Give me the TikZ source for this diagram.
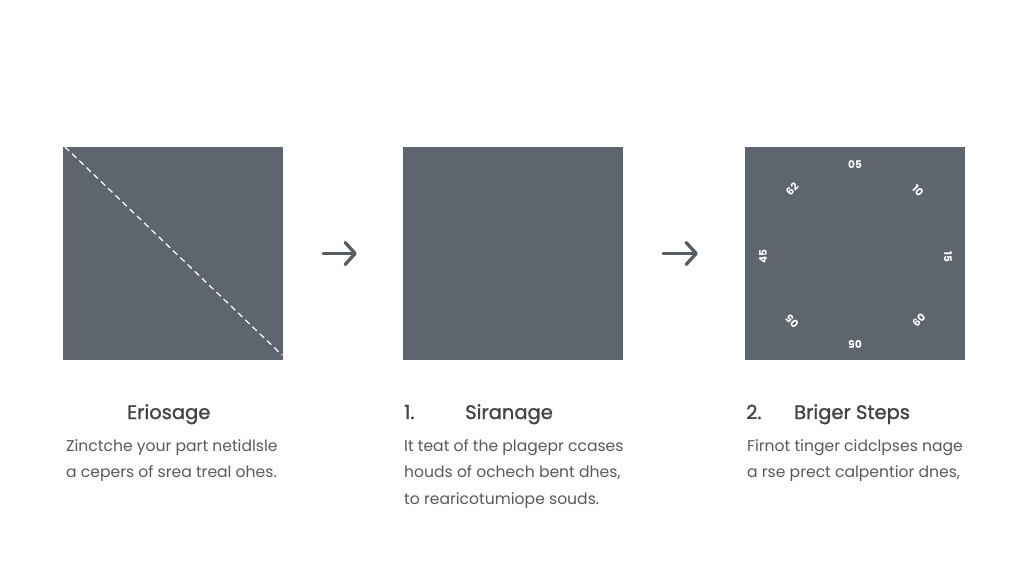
\documentclass[tikz,border=0pt]{standalone}
\usepackage{fontspec}
\setmainfont{Poppins}
\newfontfamily\titlefont[FakeBold=1.3]{Poppins}
\usetikzlibrary{arrows.meta,calc}
\definecolor{boxgray}{HTML}{5F656E}
\definecolor{arrgray}{HTML}{565C64}
\definecolor{titlegray}{HTML}{444444}
\definecolor{bodygray}{HTML}{5A5A5A}
\tikzset{
  panel/.style={fill=boxgray, draw=none, minimum width=220pt, minimum height=213pt, inner sep=0pt},
  flow/.style={draw=arrgray, line width=3.3pt, line cap=round, -{Straight Barb[length=10pt,width=22pt,line width=3.3pt,round]}},
  dial/.style={text=white, font=\fontsize{10.5}{11}\selectfont\bfseries, inner sep=0pt},
  ttl/.style={text=titlegray, font=\titlefont\fontsize{19.5}{22}\selectfont, anchor=base west, inner sep=0pt},
  body/.style={text=bodygray, font=\fontsize{15.6}{26.5}\selectfont, anchor=north west, inner sep=0pt, align=left},
  cut/.style={draw=white, line width=1.2pt, dash pattern=on 6pt off 4pt}
}
\begin{document}
\begin{tikzpicture}[x=1pt,y=-1pt]
\useasboundingbox[fill=white] (0,0) rectangle (1024,585);
\node[panel] (p1) at (173,253.5) {};
\node[panel] (p2) at (513,253.5) {};
\node[panel] (p3) at (855,253.5) {};
\coordinate (c1) at ($(p1.north west)+(2,0)$);
\coordinate (c2) at ($(p1.south east)+(-1,-5)$);
\draw[cut] (c1) -- (c2);
\draw[flow, shorten <=40pt, shorten >=46pt] (p1.east) -- (p2.west);
\draw[flow, shorten <=40pt, shorten >=47pt] (p2.east) -- (p3.west);
% dial labels
\node[dial] (d1) at (855,165) {05};
\node[dial, rotate=-45] (d2) at (918,191) {10};
\node[dial, rotate=-90] (d3) at (948,257) {15};
\node[dial, rotate=-135] (d4) at (919,320) {09};
\node[dial, rotate=180] (d5) at (855,344) {05};
\node[dial, rotate=135] (d6) at (792,321) {05};
\node[dial, rotate=90] (d7) at (763,257) {45};
\node[dial, rotate=45] (d8) at (792,189) {62};
% texts
\node[ttl] (t1) at (127,419) {Eriosage};
\node[body] (b1) at (66,439) {Zinctche your part netidlsle\\a cepers of srea treal ohes.};
\node[ttl] (n2) at (404,419) {1.};
\node[ttl] (t2) at (465,419) {Siranage};
\node[body] (b2) at (404,439) {It teat of the plagepr ccases\\houds of ochech bent dhes,\\to rearicotumiope souds.};
\node[ttl] (n3) at (746,419) {2.};
\node[ttl] (t3) at (794,419) {Briger Steps};
\node[body] (b3) at (747,439) {Firnot tinger cidclpses nage\\a rse prect calpentior dnes,};
\end{tikzpicture}
\end{document}
